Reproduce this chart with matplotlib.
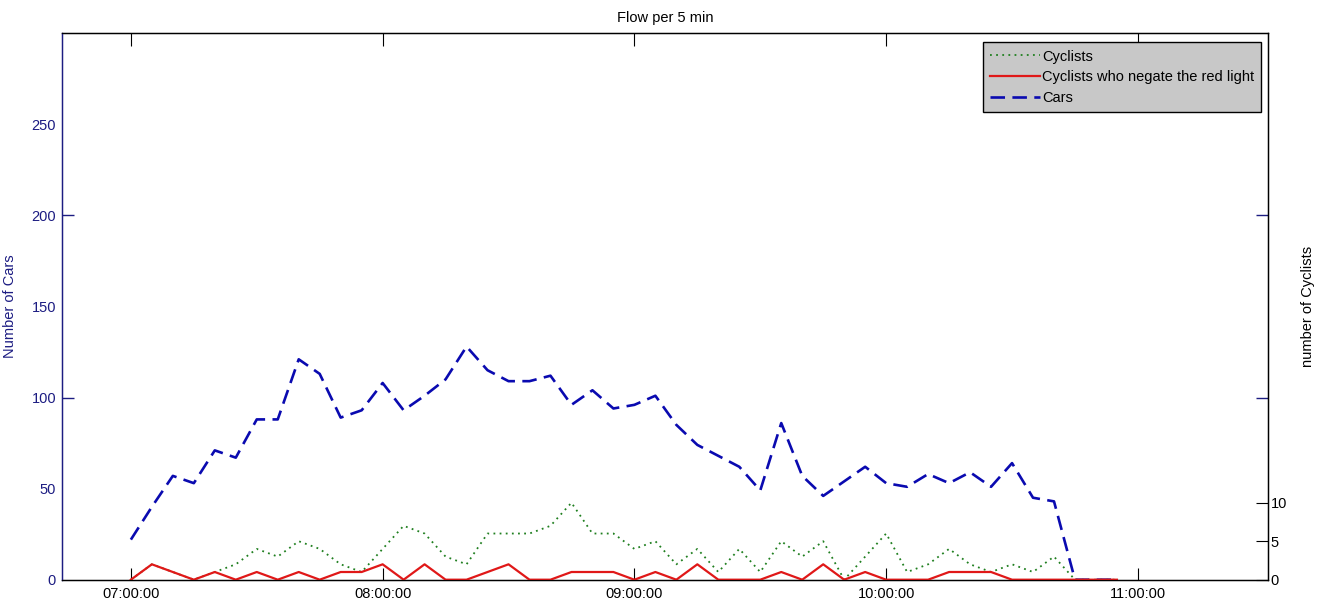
import matplotlib
matplotlib.use('Agg')
import matplotlib.pyplot as plt
import matplotlib.dates as mdates
import pandas as pd

# counts per 5 minute interval, 07:00 - 10:55
cars = [22, 40, 57, 53, 71, 67, 88, 88, 121, 113, 89, 93,
        108, 93, 101, 110, 128, 115, 109, 109, 112, 96, 104, 94,
        96, 101, 85, 74, 68, 62, 49, 86, 57, 46, 54, 62,
        53, 51, 58, 53, 59, 51, 64, 45, 43, 0, 0, 0]
cyclists = [0, 2, 1, 0, 1, 2, 4, 3, 5, 4, 2, 1,
            4, 7, 6, 3, 2, 6, 6, 6, 7, 10, 6, 6,
            4, 5, 2, 4, 1, 4, 1, 5, 3, 5, 0, 3,
            6, 1, 2, 4, 2, 1, 2, 1, 3, 0, 0, 0]
red_light = [0, 2, 1, 0, 1, 0, 1, 0, 1, 0, 1, 1,
             2, 0, 2, 0, 0, 1, 2, 0, 0, 1, 1, 1,
             0, 1, 0, 2, 0, 0, 0, 1, 0, 2, 0, 1,
             0, 0, 0, 1, 1, 1, 0, 0, 0, 0, 0, 0]

day = '2000-01-01 '
times = pd.date_range(day + '07:00', periods=len(cars), freq='5min')
hour_ticks = pd.date_range(day + '07:00', day + '11:00', freq='1h')
car_ticks = [0, 50, 100, 150, 200, 250]
cyclist_ticks = [0, 5, 10]

plt.rcParams['font.family'] = ['Liberation Sans', 'DejaVu Sans']
plt.rcParams['font.size'] = 10.5

navy = '#1c1c82'
fig = plt.figure(figsize=(13.2, 6.06), dpi=100)
ax = fig.add_axes([0.0467, 0.0434, 0.9139, 0.9017])
ax2 = ax.twinx()

l_cars, = ax.plot(times, cars, color='#0a0ab0', lw=1.9, dashes=(5.5, 2.8), label='Cars')
l_cyc, = ax2.plot(times, cyclists, color='#1f7f1f', lw=1.3, dashes=(1, 2.4), label='Cyclists')
l_red, = ax2.plot(times, red_light, color='#e01818', lw=1.6,
                  label='Cyclists who negate the red light')

ax.set_xlim(pd.Timestamp(day + '06:43:30'), pd.Timestamp(day + '11:31:00'))
ax.set_ylim(0, 300)
ax2.set_ylim(0, 71)

# time axis, ticks on bottom and top pointing inwards
ax.set_xticks(hour_ticks)
ax.xaxis.set_major_formatter(mdates.DateFormatter('%H:%M:%S'))
ax.tick_params(axis='x', direction='in', length=9, top=True, pad=5, colors='black')

# left axis: labels every 50, marks only at 100 and 200
ax.set_yticks(car_ticks)
ax.tick_params(axis='y', which='major', length=0, pad=4, labelcolor=navy)
ax.yaxis.remove_overlapping_locs = False
ax.set_yticks([100, 200], minor=True)
ax.tick_params(axis='y', which='minor', direction='in', length=8.5, width=1,
               color=navy, left=True, right=True)
ax.set_ylabel('Number of Cars', color=navy)
ax.yaxis.set_label_coords(-0.037, 0.5)

ax2.set_yticks(cyclist_ticks)
ax2.tick_params(axis='y', direction='in', length=8.5, pad=2)
ax2.set_ylabel('number of Cyclists')
ax2.yaxis.set_label_coords(1.027, 0.5)

for sp in ax.spines.values():
    sp.set_linewidth(1)
ax.spines['left'].set_color(navy)
ax2.spines['left'].set_color(navy)

ax.set_title('Flow per 5 min', fontsize=10.5, pad=8)

leg = ax2.legend(handles=[l_cyc, l_red, l_cars], loc='upper right',
                 bbox_to_anchor=(0.9945, 0.9835), fancybox=False, framealpha=1,
                 facecolor='#c8c8c8', edgecolor='black', handlelength=3.4,
                 handletextpad=0.15, labelspacing=0.45, borderpad=0.5,
                 borderaxespad=0)
leg.get_frame().set_linewidth(1)

fig.savefig('out.png', dpi=100)
